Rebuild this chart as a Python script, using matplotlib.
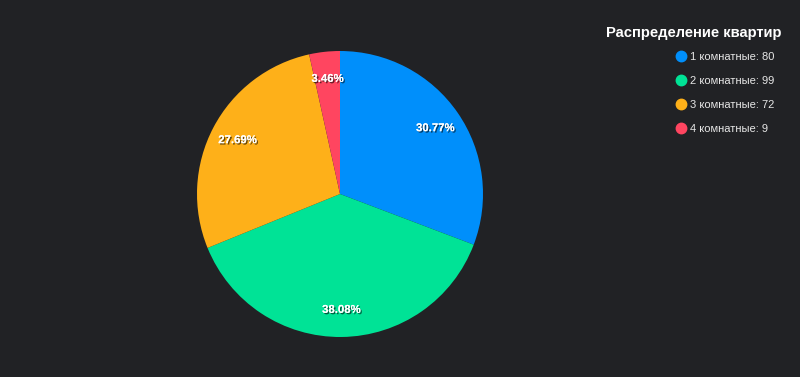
import matplotlib.pyplot as plt
import matplotlib.patheffects as pe
from matplotlib.lines import Line2D

categories = ['1 комнатные', '2 комнатные', '3 комнатные', '4 комнатные']
counts = [80, 99, 72, 9]
colors = ['#008FFB', '#00E396', '#FEB019', '#FF4560']
title = 'Распределение квартир'

bg = '#212225'
plt.rcParams['font.family'] = ['Liberation Sans', 'DejaVu Sans']

fig = plt.figure(figsize=(8, 3.77), dpi=100, facecolor=bg)
ax = fig.add_axes([197 / 800, 40 / 377, 286 / 800, 286 / 377])
ax.set_facecolor(bg)

wedges, texts, autotexts = ax.pie(
    counts, colors=colors, startangle=90, counterclock=False,
    autopct='%.2f%%', pctdistance=0.81, radius=1,
    wedgeprops=dict(linewidth=0),
    textprops=dict(color='white', fontsize=8.2, fontweight='bold'))
for t in autotexts:
    t.set_path_effects([pe.withSimplePatchShadow(offset=(1, -1), shadow_rgbFace='black', alpha=0.6),
                        pe.Normal()])
ax.set_xlim(-1, 1)
ax.set_ylim(-1, 1)
ax.set_aspect('equal')

fig.text(782 / 800, 1 - 33 / 377, title, color='white', fontsize=10.6, fontweight='bold',
         ha='right', va='center')

handles = [Line2D([], [], linestyle='none', marker='o', markersize=7.5,
                  markerfacecolor=c, markeredgecolor=c) for c in colors]
labels = [f'{c}: {v}' for c, v in zip(categories, counts)]
leg = fig.legend(handles, labels, loc='upper left', bbox_to_anchor=(677 / 800, 1 - 52 / 377),
                 frameon=False, fontsize=8, labelcolor='#e6e6e6', handlelength=0.8,
                 handletextpad=0.35, labelspacing=1.27, borderpad=0, borderaxespad=0)

fig.savefig('out.png', dpi=100, facecolor=bg)
